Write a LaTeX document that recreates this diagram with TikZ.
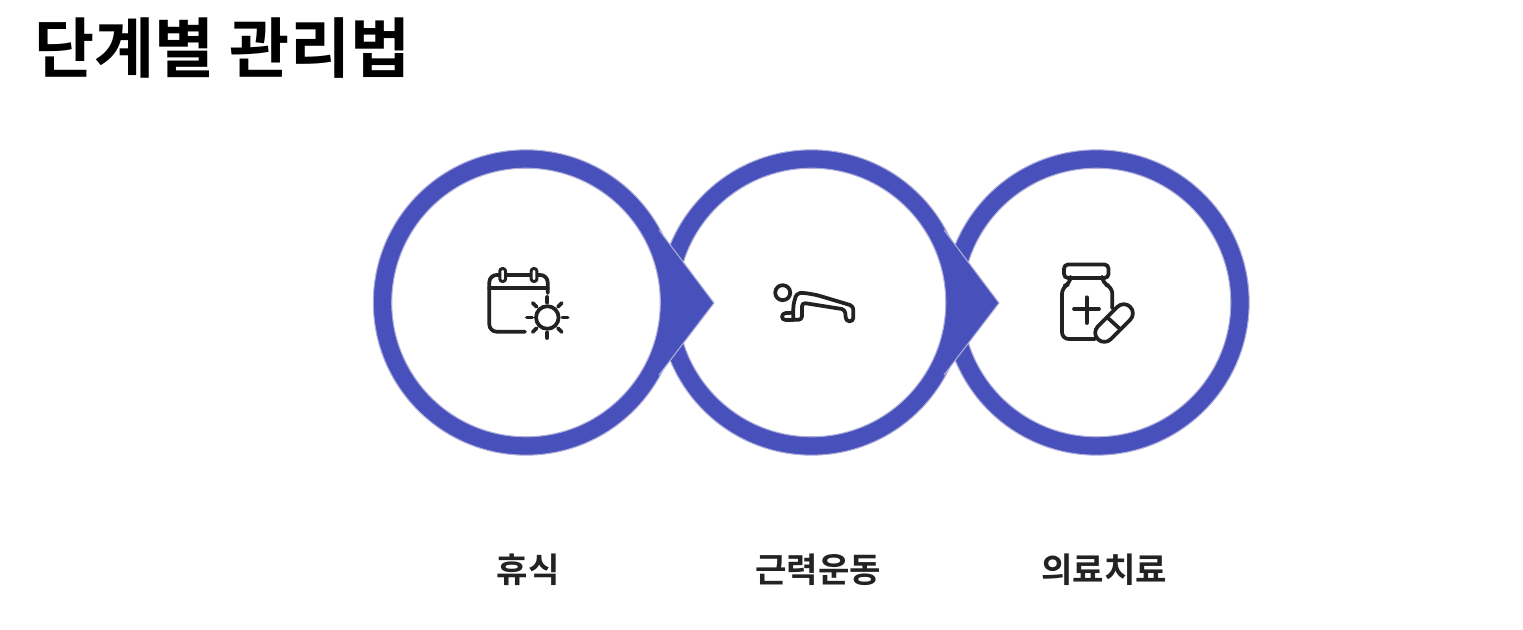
\documentclass[tikz,border=0pt]{standalone}
\usepackage{fontspec}
\setmainfont{Noto Sans CJK KR}[BoldFont={Noto Sans CJK KR Bold}]
\newfontfamily\krb{Noto Sans CJK KR Bold}
\definecolor{ringblue}{HTML}{4850BC}
\definecolor{ringedge}{HTML}{AEAEDA}
\definecolor{ink}{HTML}{222222}
\tikzset{
  ringouter/.style={circle,fill=ringblue,draw=ringedge,line width=0.8pt,minimum size=229pt,inner sep=0pt,outer sep=0pt},
  ringinner/.style={circle,fill=white,draw=ringedge,line width=0.8pt,minimum size=201.4pt,inner sep=0pt,outer sep=0pt},
  chevron/.style={fill=ringblue,draw=none},
  chevedge/.style={draw=ringedge,line width=0.8pt},
  icon/.style={draw=ink,line width=2.8pt,line cap=round,line join=round},
  steplabel/.style={font=\krb\fontsize{25.6}{25.6}\selectfont,text=ink,inner sep=0pt},
  titlelabel/.style={font=\krb\fontsize{49}{49}\selectfont,text=black,inner sep=0pt,anchor=center}
}
\begin{document}
\begin{tikzpicture}[x=0.75pt,y=-0.75pt]
\useasboundingbox (0,0) rectangle (1523,630);
\node[titlelabel] (title) at (222.5,48.5) {단계별 관리법};
% third step
\node[ringouter] (o3) at (1096.5,302.5) {};
\node[ringinner] (i3) at (1096.5,302.5) {};
% second step and its chevron
\node[ringouter] (o2) at (811.5,302.5) {};
\coordinate (t2a) at (944,230);
\coordinate (t2b) at (999,303);
\coordinate (t2c) at (944,375);
\fill[chevron] (t2a) -- (t2b) -- (t2c) -- cycle;
\draw[chevedge] (t2a) -- (t2b) -- (t2c);
\node[ringinner] (i2) at (811.5,302.5) {};
% first step and its chevron
\node[ringouter] (o1) at (526,302.5) {};
\coordinate (t1a) at (659,230);
\coordinate (t1b) at (714,303);
\coordinate (t1c) at (659,375);
\fill[chevron] (t1a) -- (t1b) -- (t1c) -- cycle;
\draw[chevedge] (t1a) -- (t1b) -- (t1c);
\node[ringinner] (i1) at (526,302.5) {};
% calendar with sun
\draw[icon,rounded corners=5.5pt] (525,331.7) -- (489.3,331.7) -- (489.3,275) -- (547.7,275) -- (547.7,293);
\draw[icon] (489.3,288) -- (547.7,288);
\draw[icon,fill=white,rounded corners=2pt,line width=2.2pt] (499.8,268.5) rectangle (505.6,281.5);
\draw[icon,fill=white,rounded corners=2pt,line width=2.2pt] (531.1,268.5) rectangle (536.9,281.5);
\draw[icon,fill=white] (547.3,317.5) circle (11.3);
\foreach \a in {0,90,180,270}
  \draw[icon] (547.3,317.5) ++(\a:15) -- ++(\a:5.5);
\foreach \a in {45,135,225,315}
  \draw[icon] (547.3,317.5) ++(\a:15) -- ++(\a:5.5);
% push-up figure
\draw[icon] (782.7,292.7) circle (7.5);
\draw[icon,rounded corners=2.6pt] (793.3,318.5) -- (793.3,305) -- (796.5,293.5) -- (803,292.7) -- (816.7,295) -- (853.3,306) -- (853.3,321.3) -- (846,321.3) -- (845,309.5) -- (802,302.7) -- (802,319.8) -- (782,320) -- (782,313.3) -- (793.3,312.7);
% medicine bottle and capsule
\draw[icon,rounded corners=3pt] (1064,264.5) rectangle (1108.5,278);
\draw[icon,rounded corners=5pt] (1070.5,278) -- (1070.5,283.5) -- (1062,287) -- (1062,339) -- (1095,339);
\draw[icon,rounded corners=5pt] (1102.3,278) -- (1102.3,283.5) -- (1112.3,287) -- (1112.3,308.3);
\draw[icon] (1086.7,297.3) -- (1086.7,323);
\draw[icon] (1074,309) -- (1099,309);
\draw[icon,fill=white,rounded corners=6.7pt] (1104.3,345.6) -- (1091.5,332.8) -- (1123.8,300.5) -- (1136.6,313.3) -- cycle;
\draw[icon] (1108.3,318.3) -- (1120,329);
% labels
\node[steplabel] (l1) at (528,569.5) {휴식};
\node[steplabel] (l2) at (818,569.5) {근력운동};
\node[steplabel] (l3) at (1104,569.5) {의료치료};
\end{tikzpicture}
\end{document}
